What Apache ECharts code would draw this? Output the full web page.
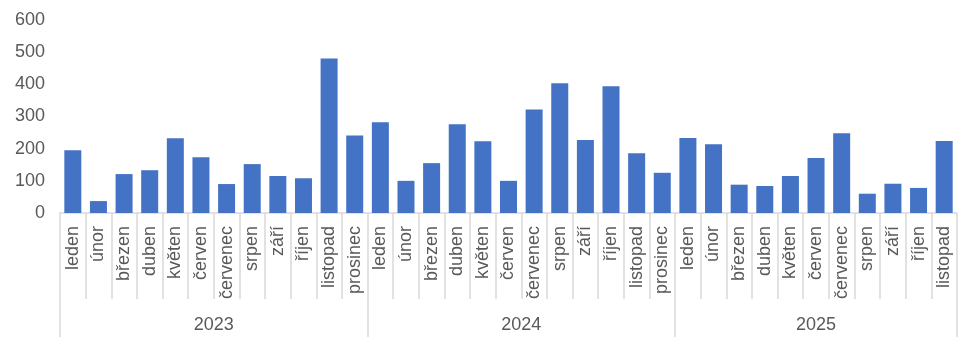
<!DOCTYPE html>
<html>
<head>
<meta charset="utf-8">
<script src="https://cdn.jsdelivr.net/npm/echarts@6/dist/echarts.min.js"></script>
<style>
  html, body { margin: 0; padding: 0; background: #fff; }
  #main { width: 968px; height: 352px; }
</style>
</head>
<body>
<div id="main"></div>
<script>
// měsíce a hodnoty
var monthNames = ['leden', 'únor', 'březen', 'duben', 'květen', 'červen', 'červenec', 'srpen', 'září', 'říjen', 'listopad', 'prosinec'];
var years = ['2023', '2024', '2025'];
var monthsPerYear = [12, 12, 11];
var values2023 = [195, 37, 121, 133, 232, 173, 90, 152, 115, 108, 480, 241];
var values2024 = [282, 100, 155, 276, 223, 100, 322, 403, 227, 394, 186, 125];
var values2025 = [233, 214, 88, 84, 115, 171, 248, 60, 91, 78, 224];
var yTicks = [0, 100, 200, 300, 400, 500, 600];

var categories = [];
monthsPerYear.forEach(function (n) {
	for (var i = 0; i < n; i++) categories.push(monthNames[i]);
});
var values = values2023.concat(values2024, values2025);

// hranice a středy skupin let
var yearBounds = [0];
var yearCenters = [];
monthsPerYear.forEach(function (n) {
	var start = yearBounds[yearBounds.length - 1];
	yearCenters.push(start + n / 2);
	yearBounds.push(start + n);
});

var gray = '#595959';
var lineGray = '#d9d9d9';
var font = 'Liberation Sans';

var myChart = echarts.init(document.getElementById('main'));
var option = {
	animation: false,
	grid: { left: 60, right: 11, top: 20, bottom: 139 },
	xAxis: [{
		type: 'category',
		data: categories,
		boundaryGap: true,
		axisLine: { show: true, lineStyle: { color: lineGray, width: 1.5 } },
		axisTick: { show: true, interval: 0, length: 86, lineStyle: { color: lineGray, width: 1.5 } },
		axisLabel: { interval: 0, rotate: 90, margin: 13, color: gray, fontFamily: font, fontSize: 18 }
	}, {
		type: 'value',
		position: 'bottom',
		min: 0,
		max: categories.length,
		axisLine: { show: false },
		splitLine: { show: false },
		axisTick: { show: true, customValues: yearBounds, length: 124, lineStyle: { color: lineGray, width: 1.5 } },
		axisLabel: {
			customValues: yearCenters,
			margin: 103,
			color: gray, fontFamily: font, fontSize: 18,
			formatter: function (v) {
				var idx = yearCenters.indexOf(v);
				return idx >= 0 ? years[idx] : '';
			}
		}
	}],
	yAxis: {
		type: 'value',
		min: yTicks[0],
		max: yTicks[yTicks.length - 1],
		interval: 100,
		axisLine: { show: false },
		axisTick: { show: false },
		splitLine: { show: false },
		axisLabel: { margin: 15, color: gray, fontFamily: font, fontSize: 18 }
	},
	series: [{
		type: 'bar',
		xAxisIndex: 0,
		data: values,
		barWidth: 17,
		itemStyle: { color: '#4472c4' }
	}]
};
myChart.setOption(option);
</script>
</body>
</html>
